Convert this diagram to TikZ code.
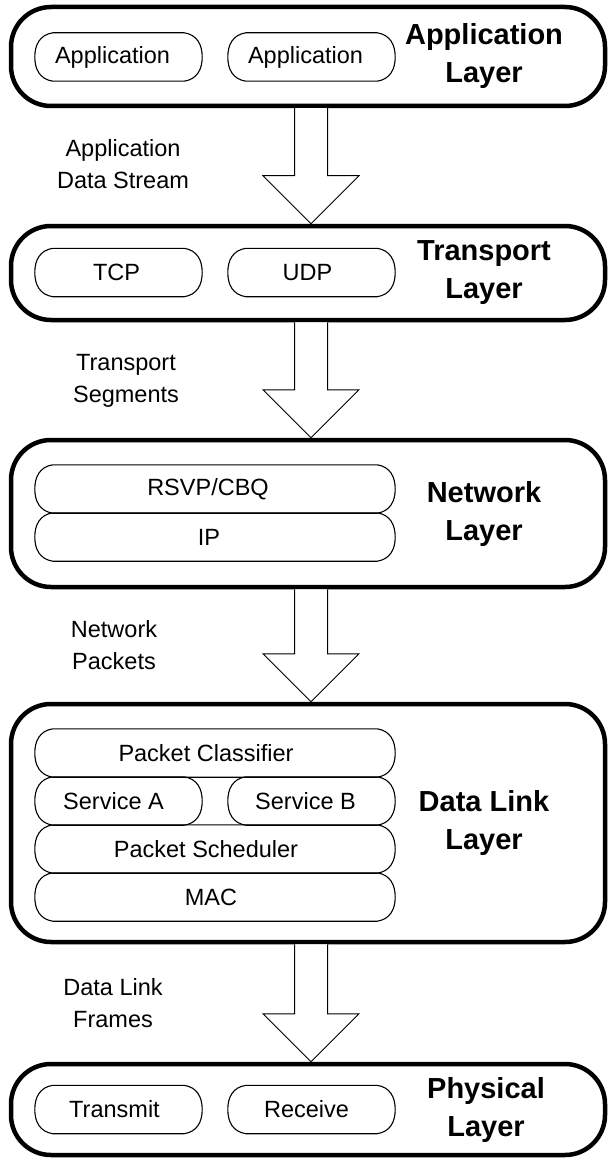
\documentclass[tikz,border=0pt]{standalone}
\usepackage{fontspec}
\setmainfont{Liberation Sans}
\usetikzlibrary{calc}
\tikzset{
  x=1pt, y=1pt,
  layerbox/.style={draw, line width=4.5pt, rounded corners=40pt, minimum width=594pt, inner sep=0pt},
  title/.style={font=\fontsize{29}{38}\selectfont\bfseries, align=center},
  pillbox/.style={inner sep=0pt, minimum height=48pt},
  pilltext/.style={font=\fontsize{23.5}{32}\selectfont, inner sep=0pt},
  flowlabel/.style={font=\fontsize{23.5}{32}\selectfont, align=center},
  pillline/.style={line width=1.1pt},
  blockarrow/.style={draw, line width=1pt, fill=white, line join=miter},
}
% outline of a pill with bracket-like ends around an empty node
\newcommand\pilloutline[1]{%
  \draw[pillline] let \p1=(#1.north west), \p2=(#1.south east), \p3=(#1.west) in
    (\x1+18,\y1) -- (\x2-18,\y1)
    .. controls (\x2-5,\y1-2) and (\x2,\y1-12) .. (\x2,\y3)
    .. controls (\x2,\y2+12) and (\x2-5,\y2+2) .. (\x2-18,\y2)
    -- (\x1+18,\y2)
    .. controls (\x1+5,\y2+2) and (\x1,\y2+12) .. (\x1,\y3)
    .. controls (\x1,\y1-12) and (\x1+5,\y1-2) .. (\x1+18,\y1) -- cycle;}
% pill: name, x, y, width, text offset, text
\newcommand\pill[6]{%
  \node[pillbox, minimum width=#4pt] (#1) at (#2,#3) {};
  \node[pilltext] (#1t) at ([xshift=#5pt]#1.center) {#6};
  \pilloutline{#1}}
% hollow block arrow from one layer down to the next
\newcommand\layerarrow[2]{%
  \draw[blockarrow] let \p1=([xshift=3pt]#1.south), \p2=([xshift=3pt]#2.north) in
    (\x1-16.5,\y1) -- (\x1-16.5,\y2+48) -- (\x1-48,\y2+48) -- (\x2,\y2)
    -- (\x1+48,\y2+48) -- (\x1+16.5,\y2+48) -- (\x1+16.5,\y1);}
\begin{document}
\begin{tikzpicture}
\fill[white] (0,0) rectangle (610,-1161);
\useasboundingbox (0,0) rectangle (610,-1161);

% layer frames
\node[layerbox, minimum height=99pt]  (app)   at (308,-56.5) {};
\node[layerbox, minimum height=94pt]  (trans) at (308,-273) {};
\node[layerbox, minimum height=147pt] (net)   at (308,-513.5) {};
\node[layerbox, minimum height=238pt] (dl)    at (308,-823) {};
\node[layerbox, minimum height=91pt]  (phys)  at (308,-1109.5) {};

% layer titles
\node[title] (appT)   at (484,-56.5)  {Application\\Layer};
\node[title] (transT) at (484,-273)   {Transport\\Layer};
\node[title] (netT)   at (484,-513.5) {Network\\Layer};
\node[title] (dlT)    at (484,-823)   {Data Link\\Layer};
\node[title] (physT)  at (486,-1109.5){Physical\\Layer};

% application layer
\pill{app1}{118.5}{-57}{167}{-6}{Application}
\pill{app2}{311.5}{-57}{167}{-6}{Application}

% transport layer
\pill{tcp}{118.5}{-272.5}{167}{-2}{TCP}
\pill{udp}{311.5}{-272.5}{167}{-4}{UDP}

% network layer
\pill{rsvp}{215}{-489}{360}{-7}{RSVP/CBQ}
\pill{ip}{215}{-537}{360}{-6}{IP}

% data link layer
\pill{cls}{215}{-753}{360}{-9}{Packet Classifier}
\pill{srvA}{118.5}{-801}{167}{-5}{Service A}
\pill{srvB}{311.5}{-801}{167}{-6}{Service B}
\pill{sch}{215}{-849}{360}{-9}{Packet Scheduler}
\pill{mac}{215}{-897}{360}{-4}{MAC}

% physical layer
\pill{tx}{118.5}{-1109.5}{167}{-4}{Transmit}
\pill{rx}{311.5}{-1109.5}{167}{-5}{Receive}

% data units passed between layers
\layerarrow{app}{trans}
\layerarrow{trans}{net}
\layerarrow{net}{dl}
\layerarrow{dl}{phys}

\node[flowlabel] (l1) at (123,-164)  {Application\\Data Stream};
\node[flowlabel] (l2) at (126,-381)  {Transport\\Segments};
\node[flowlabel] (l3) at (114,-645)  {Network\\Packets};
\node[flowlabel] (l4) at (113,-1003) {Data Link\\Frames};
\end{tikzpicture}
\end{document}
